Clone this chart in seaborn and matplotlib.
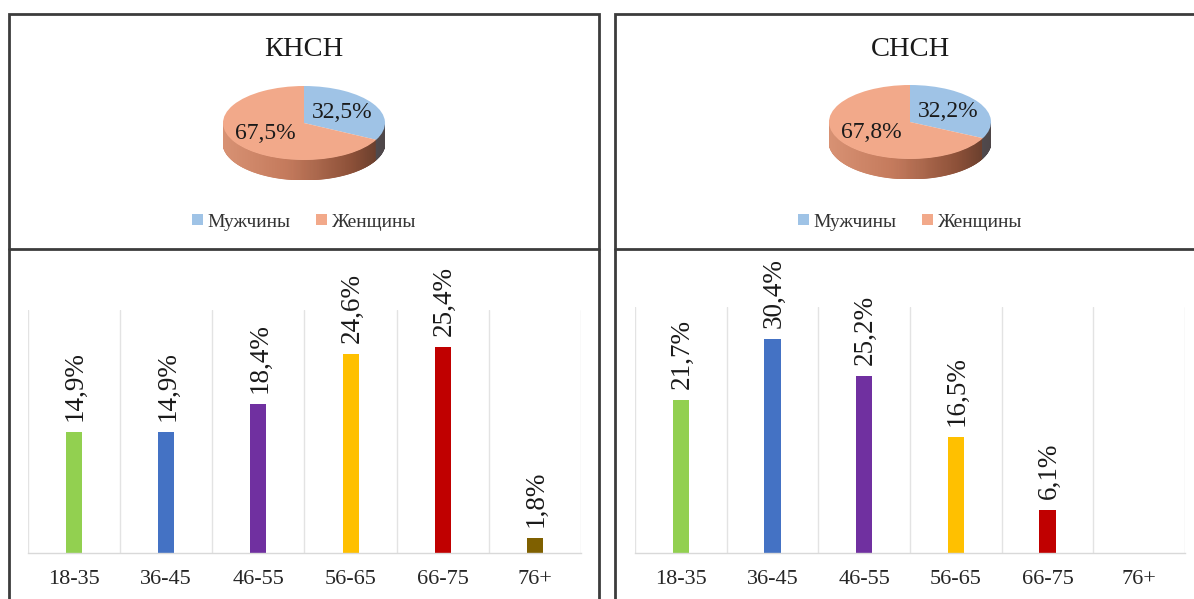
import numpy as np
import pandas as pd
import matplotlib
matplotlib.use("Agg")
import matplotlib.pyplot as plt
from matplotlib.patches import Patch
from matplotlib.collections import PolyCollection
from matplotlib.lines import Line2D
import seaborn as sns

# ---- data ----
age_groups = ["18-35", "36-45", "46-55", "56-65", "66-75", "76+"]
knsn_age = [14.9, 14.9, 18.4, 24.6, 25.4, 1.8]
snsn_age = [21.7, 30.4, 25.2, 16.5, 6.1, 0.0]
sex_labels = ["Мужчины", "Женщины"]
knsn_sex = [32.5, 67.5]
snsn_sex = [32.2, 67.8]
titles = ["КНСН", "СНСН"]
bar_colors = ["#92D050", "#4472C4", "#7030A0", "#FFC000", "#C00000", "#7F6000"]
sex_colors = ["#9FC3E6", "#F2A98A"]

sns.set_theme(style="white")
plt.rcParams["font.family"] = ["Liberation Serif", "DejaVu Serif"]

W, H = 1194, 599
fig = plt.figure(figsize=(W / 100, H / 100), dpi=100)


def px_axes(x0, y0, x1, y1, **kw):
    return fig.add_axes([x0 / W, 1 - y1 / H, (x1 - x0) / W, (y1 - y0) / H], **kw)


def fmt(v):
    return f"{v:.1f}%".replace(".", ",")


def lerp_color(stops, x):
    xs = [s[0] for s in stops]
    cols = np.array([s[1] for s in stops], dtype=float) / 255.0
    return tuple(np.interp(x, xs, cols[:, k]) for k in range(3))


salmon_side = [(-1.0, (216, 146, 116)), (-0.2, (196, 122, 92)),
               (0.6, (140, 80, 56)), (1.0, (96, 58, 42))]
blue_side = [(-1.0, (110, 120, 140)), (0.0, (95, 100, 115)),
             (1.0, (78, 70, 72))]


def pie3d(cx, cy, a, b, depth, values, title):
    d = depth / b
    ax = px_axes(cx - a, cy - b, cx + a, cy + b + depth)
    # side wall of the disc
    ts = np.linspace(np.pi, 2 * np.pi, 241)
    share = values[0] / sum(values)
    polys, cols = [], []
    for t0, t1 in zip(ts[:-1], ts[1:]):
        tm = 0.5 * (t0 + t1)
        frac = ((90 - np.degrees(tm)) % 360) / 360
        stops = blue_side if frac < share else salmon_side
        polys.append([(np.cos(t0), np.sin(t0)), (np.cos(t1), np.sin(t1)),
                      (np.cos(t1), np.sin(t1) - d), (np.cos(t0), np.sin(t0) - d)])
        cols.append(lerp_color(stops, np.cos(tm)))
    ax.add_collection(PolyCollection(polys, facecolors=cols, edgecolors=cols,
                                     linewidths=0.6, zorder=0.5))
    ax.pie(values, colors=sex_colors, startangle=90, counterclock=False,
           radius=1, wedgeprops=dict(linewidth=0),
           autopct=lambda p: fmt(p), pctdistance=0.56,
           textprops=dict(fontsize=17, color="#1a1a1a"))
    ax.set_aspect("auto")
    ax.set_xlim(-1, 1)
    ax.set_ylim(-1 - d, 1)
    ax.axis("off")
    fig.text(cx / W, 1 - 49 / H, title, ha="center", va="center",
             fontsize=20.5, color="#1a1a1a")
    handles = [Patch(facecolor=c, edgecolor="none") for c in sex_colors]
    fig.legend(handles, sex_labels, loc="center",
               bbox_to_anchor=(cx / W, 1 - 222 / H), ncol=2, frameon=False,
               fontsize=14, handlelength=0.55, handleheight=0.55,
               handletextpad=0.25, columnspacing=1.3, labelcolor="#333333")


def bars(x0, x1, ytop, ymax, values):
    ax = px_axes(x0, ytop, x1, 553)
    df = pd.DataFrame({"age": age_groups, "share": values})
    sns.barplot(data=df, x="age", y="share", hue="age", palette=bar_colors,
                legend=False, width=0.175, saturation=1, linewidth=0, ax=ax)
    ax.set_xlim(-0.5, len(age_groups) - 0.5)
    ax.set_ylim(0, ymax)
    ax.set_xlabel("")
    ax.set_ylabel("")
    ax.set_yticks([])
    ax.set_xticks(np.arange(-0.5, len(age_groups)), minor=True)
    ax.grid(True, which="minor", axis="x", color="#e3e3e3", linewidth=1)
    ax.tick_params(axis="x", which="both", length=0, pad=12,
                   labelsize=16, labelcolor="#262626")
    for s in ["left", "right", "top"]:
        ax.spines[s].set_visible(False)
    ax.spines["bottom"].set_color("#d9d9d9")
    ax.spines["bottom"].set_linewidth(1)
    ax.set_facecolor("none")
    for i, v in enumerate(values):
        if v > 0:
            ax.annotate(fmt(v), (i, v), xytext=(1, 8), textcoords="offset points",
                        rotation=90, ha="center", va="bottom", fontsize=19.5,
                        color="#1a1a1a")


pie3d(304, 123, 81, 37, 20, knsn_sex, titles[0])
pie3d(910, 122, 81, 37, 20, snsn_sex, titles[1])
bars(28, 581, 310, 30, knsn_age)
bars(635, 1185, 307, 35, snsn_age)

# panel frames
frame = px_axes(0, 0, W, H, zorder=10)
frame.set_xlim(0, W)
frame.set_ylim(H, 0)
frame.axis("off")
frame.patch.set_alpha(0)
lc = "#3c3c3c"
lw = 2.0
for xs, ys in [([9, 9, 599, 599], [H + 5, 14, 14, H + 5]),
               ([9, 599], [249, 249]),
               ([615, 615, W + 5], [H + 5, 14, 14]),
               ([615, W + 5], [249, 249])]:
    frame.add_line(Line2D(xs, ys, color=lc, linewidth=lw,
                          solid_joinstyle="miter", clip_on=False))

fig.savefig("out.png", dpi=100, facecolor="white")
